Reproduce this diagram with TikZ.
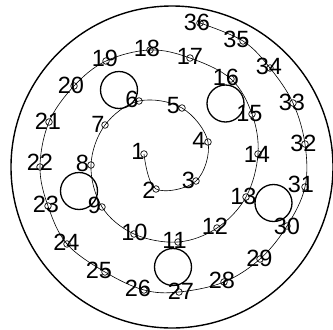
\documentclass[tikz,border=0pt]{standalone}
\usepackage{fontspec}
\setmainfont{Liberation Sans}
\begin{document}
\begin{tikzpicture}[x=1pt,y=-1pt,
  dotc/.style={circle,draw,line width=0.7pt,inner sep=0pt,minimum size=6.6pt},
  lbl/.style={inner sep=0pt,font=\fontsize{23.5}{24}\selectfont,text=black},
  hole/.style={circle,draw,line width=1.3pt,inner sep=0pt,minimum size=37pt},
  rim/.style={circle,draw,line width=1.4pt,inner sep=0pt,minimum size=322pt},
  spiralline/.style={line width=0.6pt}]
\useasboundingbox (0,0) rectangle (333,330);
% outer circle
\node[rim] (rim) at (172,167) {};
% spiral points
\coordinate (p1) at (144,154);
\coordinate (p2) at (156,189);
\coordinate (p3) at (196,181);
\coordinate (p4) at (208,142);
\coordinate (p5) at (182,108);
\coordinate (p6) at (139,101);
\coordinate (p7) at (105,125);
\coordinate (p8) at (91,165);
\coordinate (p9) at (102,207);
\coordinate (p10) at (134,234);
\coordinate (p11) at (178,242);
\coordinate (p12) at (217,228);
\coordinate (p13) at (246,197);
\coordinate (p14) at (258,154);
\coordinate (p15) at (252,114);
\coordinate (p16) at (231,79);
\coordinate (p17) at (190,58);
\coordinate (p18) at (150,50);
\coordinate (p19) at (106,61);
\coordinate (p20) at (74,86);
\coordinate (p21) at (49,122);
\coordinate (p22) at (40,167);
\coordinate (p23) at (48,206);
\coordinate (p24) at (67,244);
\coordinate (p25) at (105,272);
\coordinate (p26) at (144,290);
\coordinate (p27) at (179,292);
\coordinate (p28) at (224,282);
\coordinate (p29) at (260,259);
\coordinate (p30) at (287,226);
\coordinate (p31) at (305,187);
\coordinate (p32) at (305,144);
\coordinate (p33) at (293,103);
\coordinate (p34) at (270,68);
\coordinate (p35) at (243,41);
\coordinate (p36) at (200,23);
% spiral curve
\draw[spiralline] plot[smooth,tension=0.6] coordinates {(p1) (p2) (p3) (p4) (p5) (p6) (p7) (p8) (p9) (p10) (p11) (p12) (p13) (p14) (p15) (p16) (p17) (p18) (p19) (p20) (p21) (p22) (p23) (p24) (p25) (p26) (p27) (p28) (p29) (p30) (p31) (p32) (p33) (p34) (p35) (p36)};
% big circles
\node[hole] (h1) at (119,90) {};
\node[hole] (h2) at (225.5,103.5) {};
\node[hole] (h3) at (79,191) {};
\node[hole] (h4) at (173,267) {};
\node[hole] (h5) at (273.5,203) {};
% small node circles
\foreach \i in {1,...,36} { \node[dotc] (n\i) at (p\i) {}; }
% labels
\node[lbl] (l1) at (138,151.5) {1};
\node[lbl] (l2) at (149,190) {2};
\node[lbl] (l3) at (188.5,180) {3};
\node[lbl] (l4) at (199,140) {4};
\node[lbl] (l5) at (173.5,106) {5};
\node[lbl] (l6) at (132,99.5) {6};
\node[lbl] (l7) at (98,124) {7};
\node[lbl] (l8) at (82.5,163) {8};
\node[lbl] (l9) at (94.5,205) {9};
\node[lbl] (l10) at (134.5,232.5) {10};
\node[lbl] (l11) at (174.5,240) {11};
\node[lbl] (l12) at (215,226.5) {12};
\node[lbl] (l13) at (243.5,196) {13};
\node[lbl] (l14) at (257,154.5) {14};
\node[lbl] (l15) at (249.5,114) {15};
\node[lbl] (l16) at (226,77.5) {16};
\node[lbl] (l17) at (190,56.5) {17};
\node[lbl] (l18) at (147,48.5) {18};
\node[lbl] (l19) at (105,58) {19};
\node[lbl] (l20) at (71,85) {20};
\node[lbl] (l21) at (48,121) {21};
\node[lbl] (l22) at (40,162.5) {22};
\node[lbl] (l23) at (46,204.5) {23};
\node[lbl] (l24) at (66.5,242) {24};
\node[lbl] (l25) at (99,270) {25};
\node[lbl] (l26) at (138,288) {26};
\node[lbl] (l27) at (181,291) {27};
\node[lbl] (l28) at (222,280.5) {28};
\node[lbl] (l29) at (259.5,258.5) {29};
\node[lbl] (l30) at (287,226) {30};
\node[lbl] (l31) at (301,184) {31};
\node[lbl] (l32) at (303.5,143.5) {32};
\node[lbl] (l33) at (292,102) {33};
\node[lbl] (l34) at (269,66) {34};
\node[lbl] (l35) at (236.5,39) {35};
\node[lbl] (l36) at (197,22) {36};
\end{tikzpicture}
\end{document}
